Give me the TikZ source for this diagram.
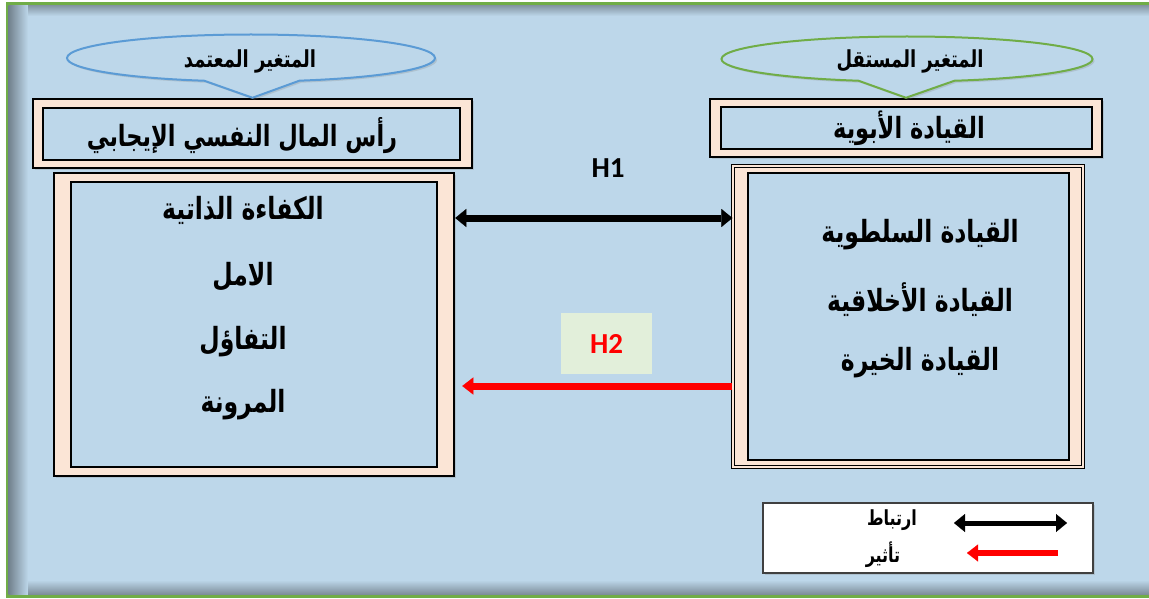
\documentclass[tikz,border=0pt]{standalone}
\usepackage{fontspec}
\usepackage{graphicx}
\usepackage{tikz}
\usetikzlibrary{positioning}
\usetikzlibrary{arrows.meta}
\usetikzlibrary{shapes.callouts}
\usetikzlibrary{shadows}
\TeXXeTstate=1
\newfontfamily\arabicfont[Script=Arabic]{DejaVu Sans}
\newfontfamily\latinfont{Carlito}
\newcommand{\artext}[1]{\scalebox{1}[1.3]{\arabicfont\bfseries\beginR #1\endR}}
\definecolor{skyblue}{RGB}{189,215,234}
\definecolor{peach}{RGB}{251,229,214}
\definecolor{framegreen}{RGB}{112,173,71}
\definecolor{calloutblue}{RGB}{91,155,213}
\definecolor{palegreen}{RGB}{226,239,218}
\definecolor{legendgray}{RGB}{64,64,64}
\tikzset {
  % peach outer frame of a box
  frame/.style = {draw, line width=2.5pt, fill=peach, inner sep=0pt,
    drop shadow={opacity=0.25, shadow xshift=2pt, shadow yshift=-2pt}},
  % blue panel inside the frame
  panel/.style = {draw, line width=2pt, fill=skyblue, inner sep=0pt},
  % variable callouts
  varcall/.style = {ellipse callout, draw, line width=2pt, fill=skyblue,
    inner sep=0pt, callout pointer arc=30,
    drop shadow={opacity=0.25, shadow xshift=2pt, shadow yshift=-2pt}},
  % text styles
  item/.style = {font=\fontsize{23.5}{28}\selectfont, inner sep=0pt},
  title/.style = {font=\fontsize{22.5}{27}\selectfont, inner sep=0pt},
  vartxt/.style = {font=\fontsize{18}{22}\selectfont, inner sep=0pt},
  small/.style = {font=\fontsize{16}{19}\selectfont, inner sep=0pt},
  hyp/.style = {font=\fontsize{29}{34}\selectfont\latinfont\bfseries},
  % correlation and effect
  link/.style = {line width=7pt,
    {Triangle[length=11pt,width=18pt,line width=0.1pt]}-{Triangle[length=11pt,width=18pt,line width=0.1pt]}},
  effect/.style = {red, line width=7pt,
    -{Triangle[length=11pt,width=17pt,line width=0.1pt]}},
}
\begin{document}
\begin{tikzpicture}[x=1pt, y=-1pt]
  \useasboundingbox (0,0) rectangle (1149,599);
  \clip (0,0) rectangle (1149,599);

  % background
  \draw[framegreen, line width=3pt, fill=skyblue] (7,4) rectangle (1170,596);
  \shade[left color=black!40!skyblue, right color=skyblue] (8.5,5.5) rectangle (28,594.5);
  \shade[top color=black!30!skyblue, bottom color=skyblue] (28,5.5) rectangle (1170,16);
  \shade[bottom color=black!35!skyblue, top color=skyblue] (28,580) rectangle (1170,594.5);

  % dependent variable
  \node[frame, minimum width=439, minimum height=69] (lttl) at (252.5,133.5) {};
  \node[panel, minimum width=417, minimum height=52] (lttlin) at (251.5,134) {};
  \node[title] (lttltxt) at (242,136) {\artext{رأس المال النفسي الإيجابي}};
  \node[varcall, draw=calloutblue, minimum width=368, minimum height=47,
    callout absolute pointer={(lttl.north)}] (ldep) at (251,58) {};
  \node[vartxt] (ldeptxt) at (250,61) {\artext{المتغير المعتمد}};

  \node[frame, minimum width=400, minimum height=303] (lbig) at (254,324.5) {};
  \node[panel, minimum width=366, minimum height=285] (lbigin) at (254,324.5) {};
  \node[item] (eff) at (243,210) {\artext{الكفاءة الذاتية}};
  \node[item] (hope) at (243,277) {\artext{الامل}};
  \node[item] (opt) at (243,342) {\artext{التفاؤل}};
  \node[item] (res) at (243,405) {\artext{المرونة}};

  % independent variable
  \node[frame, minimum width=392, minimum height=58] (rttl) at (906,128) {};
  \node[panel, minimum width=371, minimum height=42] (rttlin) at (906.5,128) {};
  \node[title] (rttltxt) at (909,128) {\artext{القيادة الأبوية}};
  \node[varcall, draw=framegreen, minimum width=371, minimum height=45,
    callout absolute pointer={(rttl.north)}] (rind) at (907,59) {};
  \node[vartxt] (rindtxt) at (910,61) {\artext{المتغير المستقل}};

  \node[frame, double=peach, double distance=1.5pt, line width=1.2pt,
    minimum width=350, minimum height=301] (rbig) at (908,316.5) {};
  \node[panel, minimum width=321, minimum height=287] (rbigin) at (908.5,316.5) {};
  \node[item] (auth) at (920,235) {\artext{القيادة السلطوية}};
  \node[item] (moral) at (920,300) {\artext{القيادة الأخلاقية}};
  \node[item] (benev) at (920,363) {\artext{القيادة الخيرة}};

  % hypotheses
  \coordinate (h1) at (600,218);
  \coordinate (h2) at (600,386);
  \node[hyp] (h1lbl) at (608,168) {H1};
  \node[hyp, fill=palegreen, text=red, minimum width=91, minimum height=61]
    (h2lbl) at (606.5,343.5) {H2};
  \draw[link] (lbig.east |- h1) -- (rbig.west |- h1);
  \draw[effect, shorten >=7pt] (rbig.west |- h2) -- (lbig.east |- h2);

  % legend
  \node[draw=legendgray, line width=1.5pt, fill=white, minimum width=330,
    minimum height=70, drop shadow={opacity=0.25, shadow xshift=2pt, shadow yshift=-2pt}]
    (legend) at (928,538) {};
  \node[small] (lgcor) at (892,520) {\artext{ارتباط}};
  \node[small] (lgeff) at (883,555) {\artext{تأثير}};
  \coordinate (lga) at (954,523);
  \coordinate (lgb) at (1067,523);
  \coordinate (lgc) at (1058,553);
  \coordinate (lgd) at (967,553);
  \draw[link, line width=5pt] (lga) -- (lgb);
  \draw[effect, line width=6pt] (lgc) -- (lgd);
\end{tikzpicture}
\end{document}
